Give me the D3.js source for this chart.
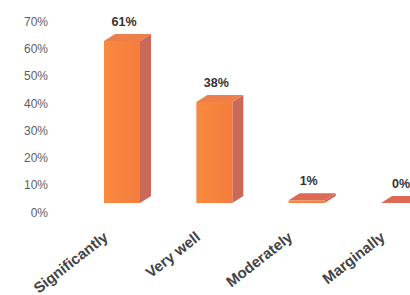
<!DOCTYPE html>
<html><head><meta charset="utf-8">
<script src="https://cdn.jsdelivr.net/npm/d3@7"></script>
<style>html,body{margin:0;padding:0;background:#fff;}svg{display:block;}</style>
</head><body>
<svg id="c" width="410" height="295"></svg>
<script>
const categories = ["Significantly", "Very well", "Moderately", "Marginally"];
const values = [0.61, 0.38, 0.01, 0.00];
const valueLabels = ["61%", "38%", "1%", "0%"];
const yTicks = [0, 0.1, 0.2, 0.3, 0.4, 0.5, 0.6, 0.7];

const svg = d3.select("#c");
const dx = 11, dy = -7, bw = 36;

const x = d3.scalePoint().domain(categories).range([122, 399]);
const y = d3.scaleLinear().domain([0, 0.7]).range([203, 17]);
const yAxisScale = d3.scaleLinear().domain([0, 0.7]).range([212, 21]);

// y axis labels
const yAxis = d3.axisLeft(yAxisScale).tickValues(yTicks).tickFormat(d3.format(".0%")).tickSize(0).tickPadding(0);
const ga = svg.append("g").attr("transform", "translate(48,0)").call(yAxis);
ga.select(".domain").remove();
ga.selectAll("text").attr("font-family", "Liberation Sans, Arial, sans-serif").attr("font-size", 12).attr("fill", "#5e5e5e").attr("dy", "0.35em");

const defs = svg.append("defs");
const grad = defs.append("linearGradient").attr("id", "front").attr("x1", 0).attr("x2", 1).attr("y1", 0).attr("y2", 0);
grad.append("stop").attr("offset", 0).attr("stop-color", "#f98a40");
grad.append("stop").attr("offset", 1).attr("stop-color", "#f57c3c");

const g = svg.append("g");
categories.forEach((c, i) => {
  const cx = x(c), x0 = cx - bw / 2, x1 = cx + bw / 2;
  const yt = y(values[i]), yb = y(0);
  // side face
  g.append("path").attr("d", `M${x1},${yt}L${x1 + dx},${yt + dy}L${x1 + dx},${yb + dy}L${x1},${yb}Z`).attr("fill", "#c9695a");
  // front face
  if (yb - yt > 0) g.append("rect").attr("x", x0).attr("y", yt).attr("width", bw).attr("height", yb - yt).attr("fill", "url(#front)");
  // top face
  g.append("path").attr("d", `M${x0},${yt}L${x0 + dx},${yt + dy}L${x1 + dx},${yt + dy}L${x1},${yt}Z`).attr("fill", values[i] > 0.05 ? "#ef7f4a" : "#de6a55");
  // value label
  svg.append("text").attr("x", cx + 2).attr("y", yt + dy - 8)
    .attr("text-anchor", "middle").attr("font-family", "Liberation Sans, Arial, sans-serif")
    .attr("font-size", 12.5).attr("font-weight", "bold").attr("fill", "#333").text(valueLabels[i]);
  // category label
  svg.append("text").attr("transform", `translate(${cx - 13},239) rotate(-38)`)
    .attr("text-anchor", "end").attr("font-family", "Liberation Sans, Arial, sans-serif")
    .attr("font-size", 15).attr("font-weight", "bold").attr("fill", "#444").text(c);
});
</script>
</body></html>
